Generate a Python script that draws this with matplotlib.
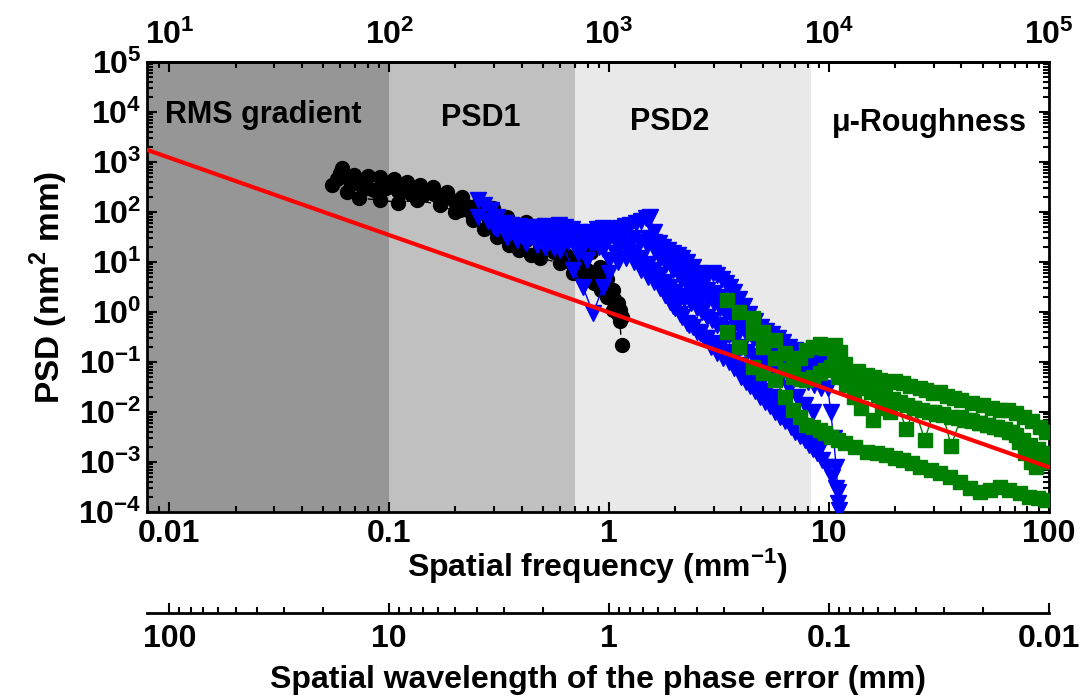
import matplotlib
matplotlib.use("Agg")
import matplotlib.pyplot as plt
from matplotlib.ticker import FuncFormatter, LogLocator, FixedLocator

plt.rcParams['font.family'] = ['Liberation Sans', 'DejaVu Sans']
plt.rcParams['font.weight'] = 'bold'
plt.rcParams['axes.labelweight'] = 'bold'

# --- data (frequency in mm^-1, PSD in nm^2 mm) ---
black1_f = [0.061, 0.069, 0.080, 0.091, 0.105, 0.12, 0.138, 0.158, 0.183, 0.214, 0.25, 0.297, 0.343,
            0.42, 0.486, 0.60, 0.74, 0.83, 0.91, 0.98, 1.04, 1.10, 1.12]
black1_psd = [748, 550, 520, 508, 450, 405, 347, 322, 256, 203, 138, 120, 80,
              64, 55, 44, 32, 16, 8, 4.5, 2.75, 1.5, 1.1]
black2_f = [0.060, 0.069, 0.080, 0.091, 0.112, 0.125, 0.143, 0.17, 0.21, 0.24, 0.28, 0.32, 0.366,
            0.42, 0.486, 0.56, 0.64, 0.72, 0.79, 0.88, 0.98, 1.03, 1.08, 1.12, 1.14]
black2_psd = [594, 371, 300, 275, 235, 225, 219, 174, 110, 80, 51, 45, 38,
              28, 20, 16, 12.8, 9, 6.9, 4.5, 3.2, 2.2, 1.5, 0.65, 0.22]
black3_f = [0.055, 0.064, 0.073, 0.091, 0.11, 0.134, 0.17, 0.20, 0.24, 0.27, 0.31, 0.35, 0.39,
            0.44, 0.486, 0.6, 0.686, 0.76, 0.85, 0.92, 0.98, 1.04, 1.1]
black3_psd = [347, 250, 187, 174, 154, 174, 138, 100, 69, 45, 32, 22, 17.4,
              14, 12, 9.5, 6, 4.8, 3.8, 2.8, 2.0, 1.1, 0.9]
black4_f = [0.058, 0.066, 0.075, 0.085, 0.097, 0.11, 0.125, 0.14, 0.16, 0.18, 0.2, 0.225, 0.25,
            0.28, 0.31, 0.35, 0.39, 0.43, 0.48, 0.53, 0.58, 0.64, 0.7, 0.77, 0.84, 0.9, 0.95,
            1.0, 1.05, 1.1, 1.15]
black4_psd = [450, 420, 330, 280, 300, 260, 290, 250, 230, 190, 160, 130, 100,
              80, 60, 48, 40, 32, 27, 22, 18, 14, 11, 8, 6, 4.5, 3.5,
              2.5, 1.8, 1.2, 0.8]

blue1_f = [0.254, 0.27, 0.29, 0.31, 0.337, 0.36, 0.39, 0.42, 0.45, 0.48, 0.51, 0.55, 0.59, 0.63,
           0.68, 0.73, 0.78, 0.83, 0.88, 0.94, 1.0, 1.06, 1.12, 1.18, 1.25, 1.32, 1.4, 1.47, 1.54,
           1.6, 1.68, 1.76, 1.85, 1.95, 2.05, 2.15, 2.27, 2.4, 2.53, 2.67, 2.82, 2.97, 3.1, 3.25,
           3.4, 3.55, 3.7, 3.9, 4.1, 4.35, 4.6, 4.9, 5.2, 5.5, 5.85, 6.2, 6.6, 7.0, 7.4, 7.9, 8.4,
           8.9, 9.3, 9.6, 9.9, 10.2, 10.5, 10.8, 11.0, 11.1]
blue1_psd = [170, 140, 110, 80, 60, 55, 52, 50, 48, 50, 52, 50, 55, 50,
             45, 40, 35, 40, 45, 48, 45, 42, 48, 52, 55, 60, 65, 75, 80,
             40, 24, 20, 17, 15, 14, 12, 10, 8, 6, 5, 5.5, 6, 5.5, 4.5,
             3.8, 3.2, 2.5, 1.8, 1.3, 0.9, 0.65, 0.5, 0.42, 0.36, 0.3, 0.25, 0.2, 0.17, 0.15, 0.13, 0.12,
             0.1, 0.09, 0.06, 0.03, 0.01, 3e-3, 8e-4, 2.5e-4, 1.1e-4]
blue2_f = [0.254, 0.28, 0.31, 0.343, 0.38, 0.42, 0.46, 0.51, 0.56, 0.6, 0.65, 0.7, 0.76, 0.82,
           0.88, 0.94, 1.0, 1.06, 1.12, 1.2, 1.29, 1.38, 1.49, 1.6, 1.7, 1.82, 1.95, 2.1, 2.26,
           2.42, 2.59, 2.8, 3.0, 3.2, 3.4, 3.66, 3.9, 4.2, 4.5, 4.85, 5.2, 5.6, 6.0, 6.5, 7.0,
           7.5, 8.0, 8.6, 9.2]
blue2_psd = [80, 65, 45, 35, 30, 28, 30, 35, 30, 28, 25, 22, 20, 25,
             30, 32, 30, 28, 35, 38, 30, 25, 22, 18, 12, 9, 7, 5, 3.5,
             2.8, 2.2, 1.8, 1.5, 1.2, 0.9, 0.7, 0.5, 0.38, 0.3, 0.22, 0.17, 0.13, 0.1, 0.08, 0.06,
             0.05, 0.04, 0.035, 0.03]
blue3_f = [0.3, 0.343, 0.38, 0.42, 0.47, 0.51, 0.56, 0.6, 0.665, 0.72, 0.79, 0.846, 0.9, 0.94,
           1.0, 1.06, 1.12, 1.2, 1.29, 1.38, 1.49, 1.6, 1.7, 1.82, 1.95, 2.1, 2.26, 2.42, 2.59,
           2.8, 3.0, 3.2, 3.4, 3.66, 3.9, 4.2, 4.5, 4.85, 5.2, 5.56, 6.0, 6.4, 6.85, 7.4, 7.93,
           8.5, 9.1]
blue3_psd = [50, 32, 28, 24, 22, 20, 19, 17.4, 32, 15, 11, 24, 20, 18,
             11, 15, 24, 20, 15, 11, 8, 5.5, 3.8, 2.2, 1.3, 0.9, 0.6, 0.5, 0.38,
             0.3, 0.24, 0.2, 0.16, 0.11, 0.085, 0.065, 0.05, 0.035, 0.026, 0.02, 0.014, 0.01, 0.0075,
             0.0052, 0.0036, 0.0026, 0.0019]
blue4_f = [0.343, 0.42, 0.51, 0.6, 0.686, 0.76, 0.846, 0.94, 1.0, 1.1, 1.2, 1.3, 1.4, 1.5, 1.6,
           1.7, 1.8, 1.9, 2.0, 2.15, 2.3, 2.5, 2.7, 2.9, 3.1, 3.3, 3.5, 3.7, 4.0, 4.2, 4.4, 4.6,
           4.85, 5.1, 5.4, 5.7, 6.0, 6.3, 6.7, 7.0, 7.4, 7.8, 8.1, 8.5, 8.8, 9.3, 9.8, 10.3,
           10.8, 11.0]
blue4_psd = [32, 24, 20, 28, 6.9, 3.2, 0.95, 3.2, 6, 10, 12, 10, 7, 5, 4,
             3, 2.2, 1.6, 1.2, 0.8, 0.55, 0.4, 0.3, 0.2, 0.15, 0.12, 0.1, 0.075, 0.05, 0.04, 0.033,
             0.026, 0.02, 0.016, 0.013, 0.01, 0.008, 0.0065, 0.005, 0.004, 0.0033, 0.0027, 0.0022,
             0.0018, 0.0015, 0.0011, 8e-4, 5e-4, 3e-4, 1.5e-4]
blue5_f = [1.5, 1.6, 1.7, 1.8, 1.9, 2.0, 2.1, 2.2, 2.35, 2.5, 2.65, 2.8, 3.0, 3.2, 3.4, 3.6, 3.8,
           4.0, 4.3, 4.6, 5.0, 5.4, 5.8, 6.3, 6.8, 7.3, 7.8, 8.3]
blue5_psd = [30, 25, 20, 16, 13, 10, 8, 6.5, 5, 4, 3.3, 2.8, 2.4, 2, 1.6, 1.3, 1.0,
             0.8, 0.6, 0.45, 0.33, 0.25, 0.19, 0.15, 0.12, 0.1, 0.085, 0.075]
blue6_f = [1.2, 1.3, 1.4, 1.5, 1.6, 1.7, 1.8, 1.9, 2.0, 2.1, 2.2, 2.35, 2.5, 2.65, 2.8, 2.95,
           3.1, 3.3, 3.5, 3.75, 4.0, 4.25, 4.5, 4.75, 5.0, 5.5, 6.0, 6.6, 7.2, 7.8, 8.5]
blue6_psd = [20, 16, 12, 9, 7, 5.5, 4, 3.2, 2.5, 2.1, 1.8, 1.5, 1.2, 1.0, 0.8, 0.68,
             0.55, 0.45, 0.35, 0.27, 0.2, 0.16, 0.13, 0.11, 0.09, 0.06, 0.045, 0.03, 0.02, 0.014, 0.01]

green1_f = [3.43, 3.9, 4.5, 5.0, 5.7, 6.3, 6.85, 7.4, 7.9, 8.5, 9.1, 9.6, 10.2, 10.7, 11.2, 11.8,
            12.4, 13.5, 14.9, 16.0, 17.1, 18.5, 20.0, 21.7, 23.5, 25.9, 27.8, 29.7, 32.0, 34.3,
            37.0, 40.0, 45.0, 50.0, 55.0, 60.0, 65.0, 71.0, 77.0, 84.0, 91.0, 97.5]
green1_psd = [1.74, 1.0, 0.75, 0.4, 0.27, 0.15, 0.1, 0.12, 0.17, 0.2, 0.23, 0.19, 0.2, 0.22, 0.16, 0.09,
              0.06, 0.065, 0.055, 0.05, 0.044, 0.04, 0.042, 0.038, 0.033, 0.03, 0.028, 0.024, 0.025, 0.021,
              0.019, 0.017, 0.015, 0.014, 0.012, 0.011, 0.011, 0.0095, 0.008, 0.0065, 0.005, 0.004]
green2_f = [3.43, 3.9, 4.5, 5.0, 5.7, 6.3, 6.85, 7.4, 7.9, 8.5, 9.1, 9.6, 10.2, 11.0, 11.9, 13.2,
            14.9, 16.5, 18.2, 20.0, 21.7, 23.8, 25.9, 29.0, 32.0, 35.5, 39.4, 44.0, 48.6, 54.0,
            59.8, 66.0, 73.7, 81.0, 89.0, 97.5]
green2_psd = [0.4, 0.2, 0.08, 0.06, 0.044, 0.02, 0.011, 0.008, 0.0055, 0.005, 0.0044, 0.0038, 0.0032,
              0.0028, 0.0024, 0.002, 0.0016, 0.0015, 0.0014, 0.0012, 0.0011, 0.00095, 0.00081, 0.0007,
              0.0006, 0.0005, 0.0004, 0.0003, 0.00025, 0.00028, 0.00031, 0.00027, 0.00024, 0.0002,
              0.00019, 0.00017]
green3_f = [4.5, 5.0, 5.7, 6.3, 6.85, 7.4, 7.9, 8.5, 9.1, 9.6, 10.2, 11.0, 12.0, 13.0, 14.0, 15.9,
            17.5, 19.0, 20.5, 22.5, 24.5, 27.3, 30.0, 33.0, 36.0, 40.0, 44.0, 48.0, 53.0, 58.0,
            63.0, 68.0, 73.0, 78.0, 83.0, 88.0, 93.0, 97.5]
green3_psd = [0.38, 0.2, 0.12, 0.07, 0.05, 0.045, 0.044, 0.05, 0.06, 0.07, 0.08, 0.05, 0.035, 0.02,
              0.012, 0.007, 0.012, 0.01, 0.015, 0.0045, 0.012, 0.0028, 0.01, 0.009, 0.0021, 0.008,
              0.007, 0.006, 0.0055, 0.005, 0.0045, 0.004, 0.0025, 0.0015, 0.001, 0.0008, 0.001, 0.0012]
green4_f = [10.5, 11.5, 12.5, 13.5, 14.5, 15.5, 16.7, 18.0, 19.5, 21.0, 22.7, 24.5, 26.5, 28.5,
            30.8, 33.2, 35.8, 38.6, 41.7, 45.0, 48.5, 52.3, 56.4, 60.9, 65.7, 70.9, 76.5, 82.5,
            89.0, 96.0]
green4_psd = [0.1, 0.07, 0.045, 0.035, 0.03, 0.025, 0.022, 0.02, 0.018, 0.016, 0.014, 0.012, 0.011,
              0.01, 0.009, 0.0085, 0.008, 0.0075, 0.007, 0.0065, 0.006, 0.0055, 0.005, 0.0045, 0.004,
              0.0035, 0.0028, 0.0022, 0.0018, 0.0015]

# red reference line (end points)
fit_f = [0.0079, 100]
fit_psd = [1750, 7.9e-4]

# frequency bands
band_edges = [0.0079, 0.1, 0.7, 8.3]
band_colors = ['#969696', '#c0c0c0', '#e9e9e9']
band_names = ['RMS gradient', 'PSD1', 'PSD2', u'\u03bc-Roughness']
band_label_x = [0.0267, 0.262, 1.89, 28.8]
band_label_y = [8700, 7600, 6300, 6000]

fig = plt.figure(figsize=(10.8, 6.96), dpi=100)
ax = fig.add_axes([0.136, 0.2644, 0.835, 0.6466])

for i in range(3):
    ax.axvspan(band_edges[i], band_edges[i + 1], color=band_colors[i], lw=0, zorder=0)
for name, x, y in zip(band_names, band_label_x, band_label_y):
    ax.text(x, y, name, ha='center', va='center', fontsize=22, fontweight='bold')

for f, p in [(black1_f, black1_psd), (black2_f, black2_psd), (black3_f, black3_psd), (black4_f, black4_psd)]:
    ax.plot(f, p, color='black', ls='--', dashes=(4, 3), lw=1, marker='o', ms=10, zorder=2)
for f, p in [(blue1_f, blue1_psd), (blue2_f, blue2_psd), (blue3_f, blue3_psd),
             (blue4_f, blue4_psd), (blue5_f, blue5_psd), (blue6_f, blue6_psd)]:
    ax.plot(f, p, color='blue', lw=1, marker='v', ms=11, zorder=3)
for f, p in [(green1_f, green1_psd), (green2_f, green2_psd), (green3_f, green3_psd), (green4_f, green4_psd)]:
    ax.plot(f, p, color='green', lw=1, marker='s', ms=10, zorder=4)

ax.plot(fit_f, fit_psd, color='red', lw=3, zorder=5)

ax.set_xscale('log')
ax.set_yscale('log')
ax.set_xlim(0.0079, 100)
ax.set_ylim(1e-4, 1e5)
ax.yaxis.set_major_locator(LogLocator(base=10, numticks=20))
ax.yaxis.set_minor_locator(LogLocator(base=10, subs=range(2, 10), numticks=20))

ax.xaxis.set_major_formatter(FuncFormatter(lambda v, pos: '%g' % v))
ax.tick_params(which='both', direction='in', top=False, right=True, width=1.5, labelsize=23)
ax.tick_params(which='major', length=7)
ax.tick_params(which='minor', length=4)
ax.tick_params(axis='x', pad=5)
ax.tick_params(axis='y', pad=4)
for sp in ax.spines.values():
    sp.set_linewidth(2)

ax.set_xlabel(r'Spatial frequency (mm$^{\mathdefault{-1}}$)', fontsize=23, labelpad=-2)
ax.set_ylabel(r'PSD (nm$^{\mathdefault{2}}$ mm)', fontsize=24, labelpad=6)

# top axis: frequency in m^-1
top = ax.secondary_xaxis('top', functions=(lambda x: x * 1e3, lambda x: x / 1e3))
top.xaxis.set_major_locator(FixedLocator([1e1, 1e2, 1e3, 1e4, 1e5]))
top.tick_params(which='both', direction='in', width=1.5, labelsize=23, pad=8)
top.tick_params(which='major', length=7)
top.tick_params(which='minor', length=4)
top.spines['top'].set_linewidth(2)

# bottom axis: spatial wavelength
wl = ax.secondary_xaxis(-0.224, functions=(lambda x: 1 / x, lambda x: 1 / x))
wl.xaxis.set_major_locator(FixedLocator([100, 10, 1, 0.1, 0.01]))
wl.xaxis.set_major_formatter(FuncFormatter(lambda v, pos: '%g' % v))
wl.tick_params(which='both', direction='in', width=1.5, labelsize=23, pad=8)
wl.tick_params(which='major', length=7)
wl.tick_params(which='minor', length=4)
wl.spines['bottom'].set_linewidth(2)
wl.set_xlabel('Spatial wavelength of the phase error (mm)', fontsize=23, labelpad=8)

fig.savefig('out.png', dpi=100)
